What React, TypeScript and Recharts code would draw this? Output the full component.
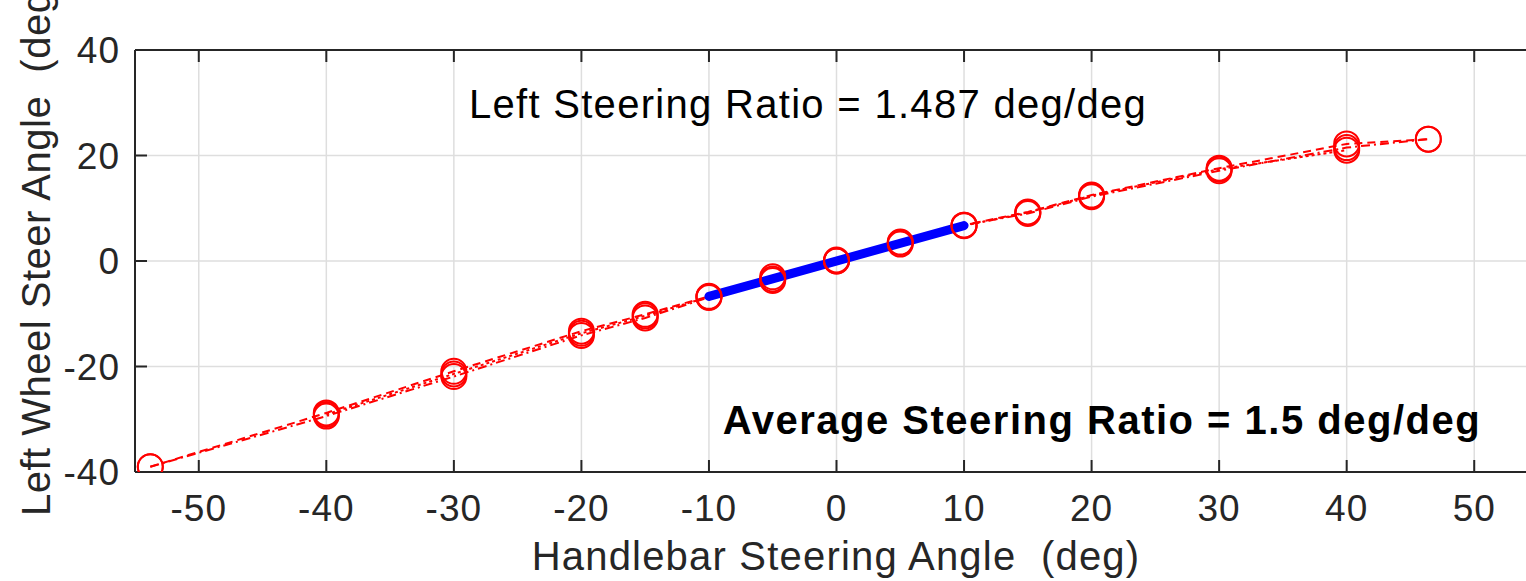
import React from 'react';
import { ComposedChart, Line, XAxis, YAxis, CartesianGrid } from 'recharts';

// Handlebar angle (deg) and left wheel steer angle (deg) for repeated runs
const runAX = [-53.8, -40, -30, -20, -15, -10, -5, 0, 5, 10, 15, 20, 30, 40, 46.4];
const runAY = [-39.0, -28.8, -20.9, -13.3, -10.1, -6.7, -3.0, 0, 3.6, 6.8, 9.3, 12.5, 17.6, 22.2, 23.1];
const runBX = [-53.8, -40, -30, -20, -15, -10, -5, 0, 5, 10, 15, 20, 30, 40, 46.4];
const runBY = [-39.0, -29.4, -21.9, -14.1, -10.8, -6.9, -3.7, 0, 3.2, 6.8, 9.0, 12.2, 17.1, 21.5, 23.1];
const runCX = [-40, -30, -20, -15, -10, -5, 0, 5, 10, 15, 20, 30, 40];
const runCY = [-29.1, -21.4, -13.7, -10.4, -6.8, -3.4, 0.2, 3.5, 6.7, 9.2, 12.4, 17.4, 21.0];
// Linear fit over the +/-10 deg window
const fitX = [-10, 10];
const fitY = [-6.72, 6.72];

const xTicks = [-50, -40, -30, -20, -10, 0, 10, 20, 30, 40, 50];
const yTicks = [-40, -20, 0, 20, 40];

const titleText = 'Left Steering Ratio = 1.487 deg/deg';
const avgText = 'Average Steering Ratio = 1.5 deg/deg';
const xLabel = 'Handlebar Steering Angle  (deg)';
const yLabel = 'Left Wheel Steer Angle  (deg)';

const zip = (xs: number[], ys: number[]) => xs.map((x, i) => ({ x, y: ys[i] }));
const runA = zip(runAX, runAY);
const runB = zip(runBX, runBY);
const runC = zip(runCX, runCY);
const fit = zip(fitX, fitY);

const FONT = '"Liberation Sans", Arial, Helvetica, sans-serif';
const AX = '#262626';
const RED = '#ff0000';

const tickStyle = { fill: AX, fontSize: 37, fontFamily: FONT, letterSpacing: 1 };
const tickLineStyle = { stroke: AX, strokeWidth: 2 };
const noLabel = () => <g />;
const dotStyle = { r: 12.5, fill: 'none', stroke: RED, strokeWidth: 2, strokeDasharray: 'none' };

export default function App() {
  return (
    <div style={{ position: 'absolute', left: 0, top: 0, width: 1526, height: 581, overflow: 'hidden', background: '#fff' }}>
      <ComposedChart width={1560} height={581} margin={{ top: 0, right: 0, bottom: 0, left: 0 }}>
        <CartesianGrid stroke="#dedede" strokeWidth={1.5} />
        <XAxis
          type="number"
          dataKey="x"
          domain={[-55, 55]}
          ticks={xTicks}
          allowDataOverflow
          height={109}
          tickSize={-12}
          tickMargin={35}
          tick={tickStyle}
          tickLine={tickLineStyle}
          stroke={AX}
          strokeWidth={2}
        />
        <XAxis
          xAxisId="top"
          orientation="top"
          type="number"
          dataKey="x"
          domain={[-55, 55]}
          ticks={xTicks}
          allowDataOverflow
          height={50}
          tickSize={-12}
          tick={noLabel}
          tickLine={tickLineStyle}
          stroke={AX}
          strokeWidth={2}
        />
        <YAxis
          type="number"
          domain={[-40, 40]}
          ticks={yTicks}
          allowDataOverflow
          width={135}
          tickSize={-12}
          tickMargin={27}
          tick={tickStyle}
          tickLine={tickLineStyle}
          stroke={AX}
          strokeWidth={2}
        />
        <YAxis
          yAxisId="right"
          orientation="right"
          type="number"
          domain={[-40, 40]}
          ticks={yTicks}
          allowDataOverflow
          width={22}
          tickSize={-12}
          tick={noLabel}
          tickLine={tickLineStyle}
          stroke={AX}
          strokeWidth={2}
        />
        <Line data={runA} dataKey="y" stroke={RED} strokeWidth={2} strokeDasharray="8 5" dot={dotStyle} activeDot={false} isAnimationActive={false} />
        <Line data={runB} dataKey="y" stroke={RED} strokeWidth={2} strokeDasharray="9 4 2 4" dot={dotStyle} activeDot={false} isAnimationActive={false} />
        <Line data={runC} dataKey="y" stroke={RED} strokeWidth={2} strokeDasharray="3 3" dot={dotStyle} activeDot={false} isAnimationActive={false} />
        <Line data={fit} dataKey="y" stroke="#0000ff" strokeWidth={9} dot={false} activeDot={false} isAnimationActive={false} strokeLinecap="round" />
        <text x={808} y={118} textAnchor="middle" fontFamily={FONT} fontSize={40} letterSpacing={1.3} fill="#000">{titleText}</text>
        <text x={1102} y={434} textAnchor="middle" fontFamily={FONT} fontSize={40} fontWeight="bold" letterSpacing={1.5} fill="#000">{avgText}</text>
        <text x={836} y={570} textAnchor="middle" fontFamily={FONT} fontSize={40} letterSpacing={1.2} fill={AX} style={{ whiteSpace: 'pre' }}>{xLabel}</text>
        <text x={50} y={516} textAnchor="start" transform="rotate(-90, 50, 516)" fontFamily={FONT} fontSize={40} letterSpacing={0.5} fill={AX} style={{ whiteSpace: 'pre' }}>{yLabel}</text>
      </ComposedChart>
    </div>
  );
}
